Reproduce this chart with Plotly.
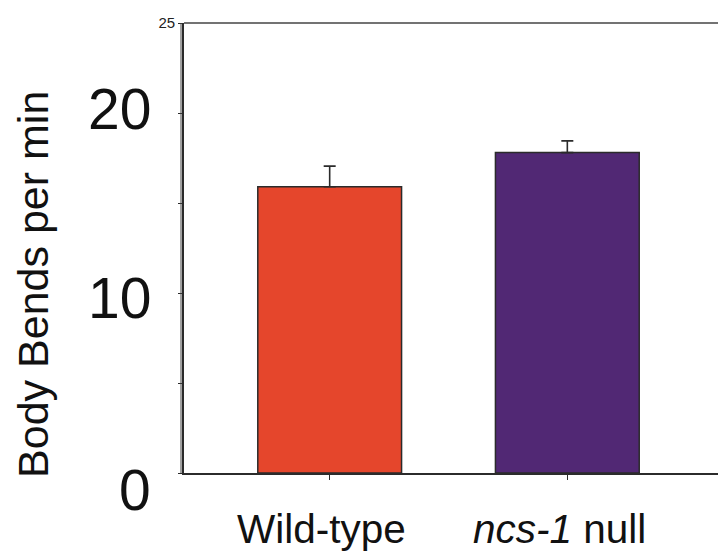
import plotly.graph_objects as go

categories = ["Wild-type", "ncs-1 null"]
category_labels = ["Wild-type", "<i>ncs-1</i> null"]
means = [15.9, 17.8]
errors = [1.15, 0.65]
bar_colors = ["#E5462C", "#512874"]
y_tickvals = [0, 5, 10, 15, 20, 25]
y_ticktext = ["", "", "", "", "", "25"]
big_tick_vals = [20, 10, 0]
big_tick_shift = [4, -5, -17]

FONT = "Arial, Liberation Sans, sans-serif"

fig = go.Figure()
fig.add_trace(go.Bar(
    x=[0, 1], y=means,
    width=0.605,
    marker=dict(color=bar_colors, line=dict(color="#2b2b2b", width=1.5)),
    error_y=dict(type="data", array=errors, arrayminus=[0, 0], symmetric=False,
                 color="#2b2b2b", thickness=1.6, width=6),
    showlegend=False,
))

annotations = []
for v, s in zip(big_tick_vals, big_tick_shift):
    annotations.append(dict(x=0, xref="paper", y=v, yref="y", text=str(v),
                            showarrow=False, xanchor="right", yanchor="middle",
                            xshift=-31, yshift=s,
                            font=dict(family=FONT, size=57, color="#111")))
for i, lab in enumerate(category_labels):
    annotations.append(dict(x=i, xref="x", y=0, yref="y", text=lab,
                            showarrow=False, xanchor="center", yanchor="middle",
                            xshift=-8, yshift=-56,
                            font=dict(family=FONT, size=40.5, color="#111")))
annotations.append(dict(x=0, xref="paper", y=0.418, yref="paper",
                        text="Body Bends per min", textangle=-90,
                        showarrow=False, xanchor="center", yanchor="middle",
                        xshift=-151,
                        font=dict(family=FONT, size=43, color="#111")))

fig.update_layout(
    width=718, height=553,
    margin=dict(l=184, r=0, t=23, b=80),
    paper_bgcolor="white", plot_bgcolor="white",
    bargap=0.4,
    annotations=annotations,
    xaxis=dict(range=[-0.613, 1.634], tickvals=[0, 1], ticktext=["", ""],
               showline=True, linecolor="#2b2b2b", linewidth=1.5,
               ticks="outside", ticklen=5, tickcolor="#2b2b2b",
               showgrid=False, zeroline=False, mirror=False),
    yaxis=dict(range=[0, 25], tickvals=y_tickvals, ticktext=y_ticktext,
               showline=True, linecolor="#2b2b2b", linewidth=1.8,
               ticks="outside", ticklen=4, tickcolor="#2b2b2b",
               tickfont=dict(family=FONT, size=15, color="#222"),
               showgrid=False, zeroline=False),
    shapes=[
        dict(type="line", xref="paper", yref="paper", x0=0, x1=1, y0=1, y1=1,
             line=dict(color="#444", width=1.6)),
        dict(type="line", xref="paper", yref="paper", x0=-3/534, x1=-3/534, y0=0, y1=1,
             line=dict(color="#444", width=1)),
    ],
)

fig.write_html("out.html", config={"displayModeBar": False},
               post_script="document.body.style.margin='0';document.body.style.padding='0';")
